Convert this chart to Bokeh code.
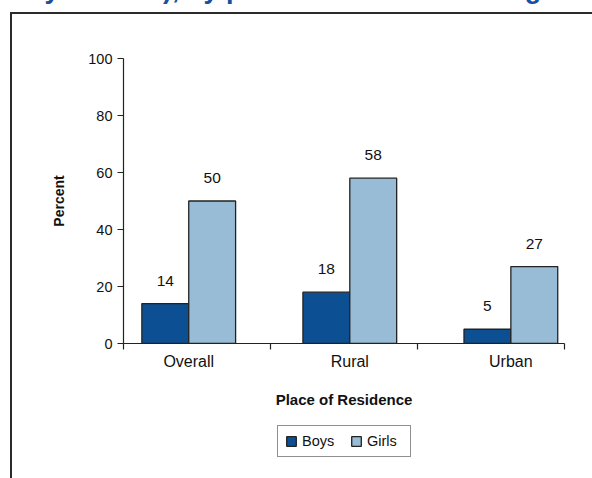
from bokeh.plotting import figure
from bokeh.layouts import column
from bokeh.models import (ColumnDataSource, FixedTicker, Legend, LegendItem, Range1d)
from bokeh.core.properties import value
from bokeh.embed import file_html
from bokeh.resources import INLINE

# Share of children by place of residence and gender (percent)
categories = ["Overall", "Rural", "Urban"]
boys = [14, 18, 5]
girls = [50, 58, 27]
y_ticks = [0, 20, 40, 60, 80, 100]
series_names = ["Boys", "Girls"]

title_text = "years old), by place of residence and gender"

BOYS_COLOR = "#0c4f92"
GIRLS_COLOR = "#98bbd6"
INK = "#222222"
LINE = "#2b2b2b"
FONT = "Liberation Sans"

SHIFT = 90          # canvas rows hidden above the page top
TOP = 58            # visible space above the plotting area
LEGEND_H = 58       # height of the legend strip under the chart
FRAME_LEFT = 123    # left edge of the plotting area

bar_w = 0.291
idx = list(range(len(categories)))
x_lo, x_hi = -0.405, 2.333          # extent of the drawn x axis

src_boys = ColumnDataSource(dict(x=[i - bar_w / 2 for i in idx], top=boys,
                                 lbl=[str(v) for v in boys]))
src_girls = ColumnDataSource(dict(x=[i + bar_w / 2 for i in idx], top=girls,
                                  lbl=[str(v) for v in girls]))

p = figure(frame_width=441, frame_height=285, output_backend="svg", toolbar_location=None,
           x_range=Range1d(x_lo, x_hi), y_range=Range1d(0, 100),
           min_border_left=FRAME_LEFT, min_border_right=28, min_border_top=TOP + SHIFT,
           min_border_bottom=478 - LEGEND_H - TOP - 285)
p.grid.visible = False
p.outline_line_color = None
p.background_fill_color = None
p.border_fill_color = None

# outer frame drawn as page lines (left and top edge)
p.styles = {
    "background-image": f"linear-gradient({LINE}, {LINE}), linear-gradient({LINE}, {LINE})",
    "background-position": f"10px {12 + SHIFT}px, 10px {12 + SHIFT}px",
    "background-size": "2px 100%, 100% 2px",
    "background-repeat": "no-repeat",
}

# heading, mostly above the visible page
p.title.text = title_text
p.title.text_font = FONT
p.title.text_font_style = "bold"
p.title.text_font_size = "27px"
p.title.text_color = "#17509c"
p.title.align = "left"
p.title.vertical_align = "top"
p.title.standoff = 106
p.title.offset = 44 - FRAME_LEFT

bar_style = dict(width=bar_w, bottom=0, line_color=INK, line_width=1.3)
p.vbar(x="x", top="top", source=src_boys, fill_color=BOYS_COLOR, **bar_style)
p.vbar(x="x", top="top", source=src_girls, fill_color=GIRLS_COLOR, **bar_style)

for src in (src_boys, src_girls):
    p.text(x="x", y="top", text="lbl", source=src, text_align="center",
           text_baseline="middle", y_offset=-23, text_font=value(FONT),
           text_font_size="15.5px", text_color="#111111")

# y axis
ya = p.yaxis[0]
ya.ticker = FixedTicker(ticks=y_ticks)
ya.axis_label = "Percent"
ya.axis_label_text_font = FONT
ya.axis_label_text_font_style = "bold"
ya.axis_label_text_font_size = "14px"
ya.axis_label_text_color = "#111111"
ya.axis_label_standoff = 18
ya.major_label_text_font = FONT
ya.major_label_text_font_size = "14.5px"
ya.major_label_text_color = "#111111"
ya.major_label_standoff = 5
ya.major_tick_out = 6
ya.major_tick_in = 0
ya.minor_tick_out = 0
ya.minor_tick_in = 0
ya.axis_line_color = INK
ya.axis_line_width = 1.2
ya.major_tick_line_color = INK
ya.major_tick_line_width = 1.2

# x axis: labels under each group, tick marks between groups
step = (x_hi - x_lo) / len(categories)
xa = p.xaxis[0]
xa.ticker = FixedTicker(ticks=idx, minor_ticks=[x_lo + k * step for k in range(len(categories) + 1)])
xa.major_label_overrides = {i: c for i, c in zip(idx, categories)}
xa.axis_label = "Place of Residence"
xa.axis_label_text_font = FONT
xa.axis_label_text_font_style = "bold"
xa.axis_label_text_font_size = "15px"
xa.axis_label_text_color = "#111111"
xa.axis_label_standoff = 18
xa.major_label_text_font = FONT
xa.major_label_text_font_size = "16px"
xa.major_label_text_color = "#111111"
xa.major_label_standoff = 3
xa.major_tick_out = 0
xa.major_tick_in = 0
xa.minor_tick_out = 6
xa.minor_tick_in = 0
xa.minor_tick_line_color = INK
xa.minor_tick_line_width = 1.2
xa.axis_line_color = INK
xa.axis_line_width = 1.2

# legend strip under the chart; its key renderers share the bar styling but stay hidden
pl = figure(width=592, height=LEGEND_H, output_backend="svg", toolbar_location=None,
            x_range=Range1d(0, 1), y_range=Range1d(0, 1), min_border=0,
            x_axis_location=None, y_axis_location=None)
pl.grid.visible = False
pl.outline_line_color = None
pl.background_fill_color = None
pl.border_fill_color = None
pl.styles = {
    "background-image": f"linear-gradient({LINE}, {LINE})",
    "background-position": "10px 0px",
    "background-size": "2px 100%",
    "background-repeat": "no-repeat",
}
key_boys = pl.vbar(x="x", top="top", source=src_boys, fill_color=BOYS_COLOR,
                   visible=False, **bar_style)
key_girls = pl.vbar(x="x", top="top", source=src_girls, fill_color=GIRLS_COLOR,
                    visible=False, **bar_style)

legend = Legend(items=[LegendItem(label=series_names[0], renderers=[key_boys]),
                       LegendItem(label=series_names[1], renderers=[key_girls])],
                orientation="horizontal", location=(277 - FRAME_LEFT, 21), margin=0,
                padding=7, spacing=12, glyph_width=12, glyph_height=12,
                label_standoff=5, label_width=36, label_text_font=FONT,
                label_text_font_size="14.5px", label_text_color="#111111",
                inactive_fill_alpha=0,
                border_line_color=INK, border_line_width=1,
                background_fill_color="white", background_fill_alpha=1)
pl.add_layout(legend)

page = column(p, pl, spacing=0, styles={"margin-top": f"-{SHIFT}px"})

open("out.html", "w").write(file_html(page, INLINE))
